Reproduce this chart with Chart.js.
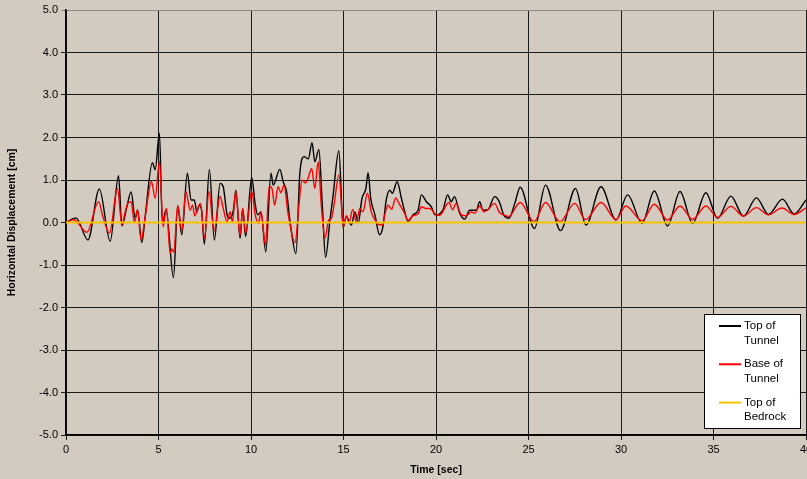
<!DOCTYPE html>
<html>
<head>
<meta charset="utf-8">
<script src="https://cdn.jsdelivr.net/npm/chart.js@4"></script>
<style>
    body { margin: 0; background: #d3cbc0; }
    #wrap { position: relative; width: 807px; height: 479px; overflow: hidden; background: #d3cbc0; }
    #displacementChart { position: absolute; left: 0; top: -20px; }
</style>
</head>
<body>
<div id="wrap">
    <canvas id="displacementChart" width="850" height="520"></canvas>
</div>
<script>
// Top of Tunnel - time [sec] and displacement [cm]
const topTime = [0, 0.54, 1.19, 1.8, 2.39, 2.84, 3.02, 3.29, 3.52, 3.74, 3.87, 4.1, 4.28, 4.67, 4.82, 5.05,
    5.21, 5.41, 5.81, 6.04, 6.26, 6.56, 6.76, 6.94, 7.07, 7.2, 7.33, 7.48, 7.75, 8.02, 8.33, 8.5, 8.69, 8.78,
    9.05, 9.18, 9.41, 9.55, 9.71, 10.04, 10.22, 10.36, 10.54, 10.8, 11.08, 11.2, 11.56, 11.74, 11.92, 12.1,
    12.43, 12.64, 12.87, 13.1, 13.3, 13.45, 13.67, 13.85, 14.03, 14.27, 14.43, 14.75, 14.98, 15.15, 15.43,
    15.61, 15.8, 16.0, 16.21, 16.33, 16.47, 16.7, 16.95, 17.13, 17.31, 17.5, 17.64, 17.9, 18.13, 18.3, 18.49,
    18.76, 19.03, 19.21, 19.48, 19.75, 19.95, 20.37, 20.63, 20.82, 21.0, 21.28, 21.55, 21.82, 22.18, 22.36,
    22.54, 22.8, 23.17, 23.42, 23.66, 23.95, 24.26, 24.55, 25.32, 25.92, 26.73, 27.54, 28.11, 28.92, 29.73,
    30.36, 31.14, 31.8, 32.52, 33.19, 33.87, 34.59, 35.22, 35.94, 36.62, 37.32, 37.97, 38.73, 39.36, 40.0];
const topDisp = [0, 0.11, -0.41, 0.79, -0.44, 1.10, -0.08, 0.37, 0.72, 0.10, 0.29, -0.47, 0.14, 1.41, 1.24, 2.10,
    -0.02, 0.31, -1.30, 0.39, -0.29, 1.16, 0.53, 0.53, 0.25, 0.41, 0.29, -0.51, 1.25, -0.41, 0.92, 0.84, 0.22, 0.10,
    0.29, 0.76, -0.37, 0.33, -0.33, 1.06, 0.45, 0.18, 0.25, -0.69, 1.16, 0.88, 1.25, 0.96, 0.73, 0.06,
    -0.73, 1.16, 1.55, 1.50, 1.88, 1.43, 1.72, 0.45, -0.82, 0.06, 0.61, 1.69, -0.12, 0.14, -0.06,
    0.25, 0.00, 0.57, 0.80, 1.17, 0.57, 0.18, -0.29, -0.10, 0.53, 0.76, 0.69, 0.96, 0.57, 0.27, 0.02,
    0.18, 0.29, 0.65, 0.49, 0.37, 0.18, 0.29, 0.65, 0.49, 0.61, 0.22, 0.08, 0.29, 0.29, 0.49,
    0.29, 0.30, 0.61, 0.49, 0.18, 0.10, 0.45, 0.83, -0.14, 0.88, -0.19, 0.80, -0.06, 0.84, 0.06,
    0.65, -0.02, 0.74, -0.08, 0.73, -0.02, 0.70, 0.10, 0.62, 0.15, 0.58, 0.19, 0.55, 0.20, 0.53];

// Base of Tunnel
const baseTime = [0, 0.41, 1.13, 1.76, 1.99, 2.35, 2.78, 3.02, 3.2, 3.34, 3.52, 3.7, 3.86, 4.06, 4.28, 4.62, 4.82,
    5.05, 5.25, 5.43, 5.63, 5.72, 5.82, 6.04, 6.26, 6.48, 6.71, 6.84, 6.96, 7.1, 7.27, 7.48, 7.73, 8.0, 8.33,
    8.5, 8.7, 8.87, 9.0, 9.18, 9.41, 9.55, 9.71, 10.04, 10.22, 10.4, 10.54, 10.78, 10.98, 11.12, 11.28, 11.46,
    11.62, 11.78, 12.0, 12.38, 12.6, 12.76, 12.94, 13.05, 13.28, 13.45, 13.63, 13.8, 14.0, 14.2, 14.35, 14.5,
    14.75, 15.0, 15.15, 15.3, 15.5, 15.7, 15.88, 16.05, 16.29, 16.5, 16.7, 16.86, 17.1, 17.27, 17.41, 17.6,
    17.82, 18.0, 18.3, 18.5, 18.76, 19.03, 19.21, 19.45, 19.68, 20.0, 20.2, 20.7, 20.9, 21.08, 21.37, 21.64,
    21.91, 22.1, 22.36, 22.6, 22.8, 23.17, 23.42, 23.78, 23.93, 24.55, 25.3, 25.92, 26.7, 27.5, 28.08, 28.92,
    29.73, 30.26, 31.14, 31.8, 32.52, 33.19, 33.87, 34.59, 35.22, 35.94, 36.62, 37.32, 37.97, 38.7, 39.36, 40.0];
const baseDisp = [0, 0.07, -0.23, 0.49, 0.14, -0.25, 0.80, -0.05, 0.25, 0.45, 0.49, 0.00, 0.30, -0.41, 0.14, 0.96, 0.57,
    1.43, -0.10, 0.33, -0.73, -0.62, -0.70, 0.40, -0.19, 0.73, 0.29, 0.41, 0.16, 0.30, 0.45, -0.37, 0.73, -0.19, 0.61,
    0.33, 0.02, 0.25, 0.02, 0.73, -0.30, 0.33, -0.25, 0.73, 0.20, -0.02, 0.25, -0.53, 0.84, 0.82, 0.41, 0.84,
    0.70, 0.88, 0.22, -0.47, 0.45, 1.00, 0.93, 1.00, 1.27, 0.80, 1.43, 0.40, -0.37, 0.06, 0.10, 0.45,
    1.12, -0.10, 0.16, 0.00, 0.31, 0.00, 0.33, 0.25, 0.69, 0.25, 0.06, -0.04, -0.06, 0.25, 0.41, 0.31,
    0.58, 0.45, 0.22, 0.05, 0.16, 0.20, 0.37, 0.33, 0.33, 0.18, 0.17, 0.47, 0.30, 0.45, 0.18, 0.16,
    0.25, 0.22, 0.39, 0.25, 0.30, 0.45, 0.24, 0.16, 0.14, 0.47, 0.02, 0.47, 0.02, 0.45, 0.07, 0.47,
    0.07, 0.39, 0.04, 0.43, 0.06, 0.39, 0.07, 0.39, 0.12, 0.38, 0.15, 0.35, 0.18, 0.34, 0.19, 0.34];

// Top of Bedrock
const bedrockTime = [0, 40];
const bedrockDisp = [0, 0];

const seriesLabels = ['Top of\nTunnel', 'Base of\nTunnel', 'Top of\nBedrock'];
const seriesColors = ['#000000', '#ff0000', '#f7c300'];

const xTicks = [0, 5, 10, 15, 20, 25, 30, 35, 40];
const yTicks = [-5, -4, -3, -2, -1, 0, 1, 2, 3, 4, 5];

function toPoints(times, values) {
    return times.map((t, i) => ({ x: t, y: values[i] }));
}

// Legenda desenhada na área do gráfico (rótulos em duas linhas)
const boxLegend = {
    id: 'boxLegend',
    afterDraw(chart) {
        const ctx = chart.ctx;
        const area = chart.chartArea;
        const w = 96, h = 114;
        const left = area.right - 102;
        const top = area.bottom - 121;
        ctx.save();
        ctx.fillStyle = '#ffffff';
        ctx.fillRect(left, top, w, h);
        ctx.strokeStyle = '#000000';
        ctx.lineWidth = 1;
        ctx.strokeRect(left + 0.5, top + 0.5, w, h);
        ctx.font = '11.5px "Liberation Sans", Arial, sans-serif';
        ctx.textBaseline = 'middle';
        ctx.fillStyle = '#000000';
        chart.data.datasets.forEach((ds, i) => {
            const y = top + 12 + i * 38.3;
            ctx.strokeStyle = ds.borderColor;
            ctx.lineWidth = 2;
            ctx.beginPath();
            ctx.moveTo(left + 15, y);
            ctx.lineTo(left + 37, y);
            ctx.stroke();
            ds.label.split('\n').forEach((line, j) => {
                ctx.fillText(line, left + 40, y + j * 14.5);
            });
        });
        ctx.restore();
    }
};

function createChart() {
    const datasets = [
        { data: toPoints(topTime, topDisp), order: 3, borderWidth: 1.4 },
        { data: toPoints(baseTime, baseDisp), order: 2, borderWidth: 1.4 },
        { data: toPoints(bedrockTime, bedrockDisp), order: 1, borderWidth: 2 }
    ].map((ds, i) => Object.assign(ds, {
        label: seriesLabels[i],
        borderColor: seriesColors[i],
        pointRadius: 0,
        cubicInterpolationMode: 'monotone',
        fill: false
    }));

    return new Chart(document.getElementById('displacementChart'), {
        type: 'line',
        data: { datasets },
        options: {
            responsive: false,
            animation: false,
            layout: { padding: { left: 0, top: 30, right: 44, bottom: 0 } },
            plugins: { legend: { display: false }, tooltip: { enabled: false } },
            scales: {
                x: {
                    type: 'linear',
                    min: 0,
                    max: 40,
                    afterFit: scale => { scale.height = 65; },
                    afterBuildTicks: scale => { scale.ticks = xTicks.map(v => ({ value: v })); },
                    ticks: { color: '#000', font: { size: 11, family: '"Liberation Sans", Arial' }, padding: 3, maxRotation: 0 },
                    grid: { color: '#1a1a1a', lineWidth: 1, tickLength: 5 },
                    border: { color: '#000', width: 1.5 },
                    title: {
                        display: true,
                        text: 'Time [sec]',
                        color: '#000',
                        font: { size: 10.5, weight: 'bold', family: '"Liberation Sans", Arial' },
                        padding: { top: 0, bottom: 24 }
                    }
                },
                y: {
                    min: -5,
                    max: 5,
                    afterFit: scale => { scale.width = 66; },
                    afterBuildTicks: scale => { scale.ticks = yTicks.map(v => ({ value: v })); },
                    ticks: {
                        color: '#000',
                        font: { size: 11, family: '"Liberation Sans", Arial' },
                        padding: 3,
                        callback: v => v.toFixed(1)
                    },
                    grid: {
                        color: c => (c.tick && c.tick.value === 5 ? '#8a8a8a' : '#1a1a1a'),
                        lineWidth: 1,
                        tickLength: 5
                    },
                    border: { color: '#000', width: 1.5 },
                    title: {
                        display: true,
                        text: 'Horizontal Displacement [cm]',
                        color: '#000',
                        font: { size: 10.5, weight: 'bold', family: '"Liberation Sans", Arial' },
                        padding: { top: 6, bottom: 0 }
                    }
                }
            }
        },
        plugins: [boxLegend]
    });
}

document.addEventListener('DOMContentLoaded', () => {
    createChart();
});
</script>
</body>
</html>
